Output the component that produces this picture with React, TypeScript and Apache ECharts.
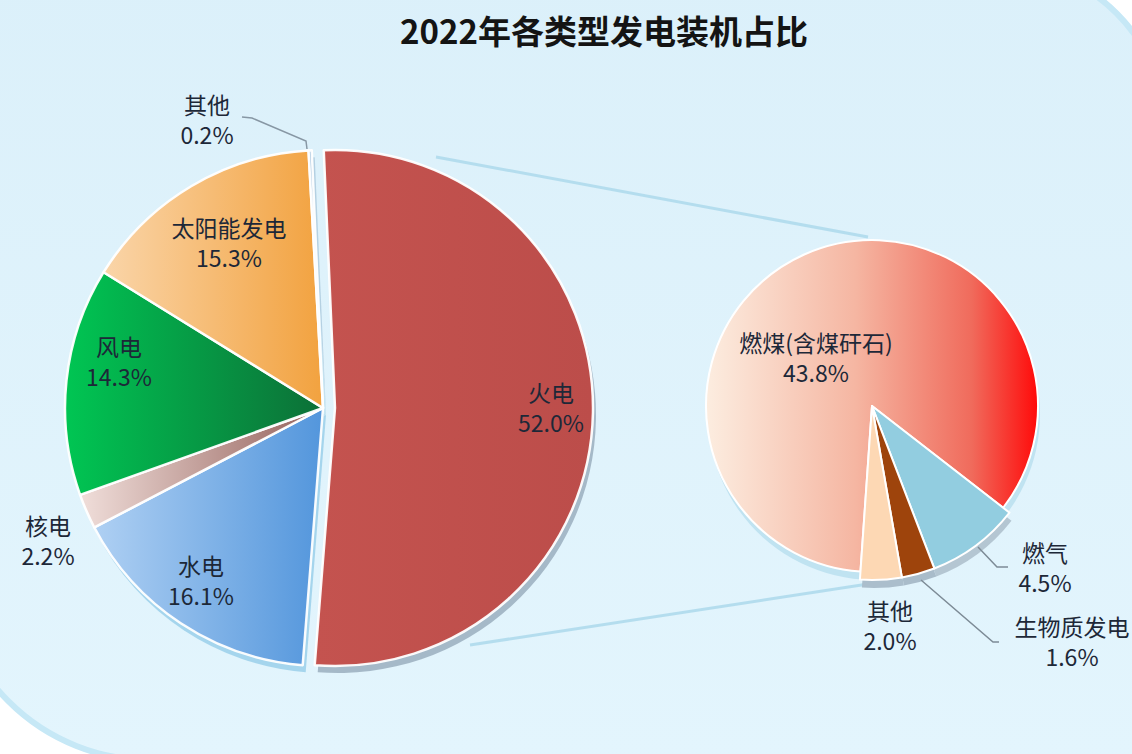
import React, { useEffect, useRef } from 'react';
import * as echarts from 'echarts';

// ---------- data ----------
const chartTitle = '2022年各类型发电装机占比';

const mainNames = ['火电', '水电', '核电', '风电', '太阳能发电', '其他'];
const mainValues = [52.0, 16.1, 2.2, 14.3, 15.3, 0.2];

// breakdown of 火电 (clockwise order starting at the 燃气 slice)
const subNames = ['燃气', '生物质发电', '其他', '燃煤(含煤矸石)'];
const subValues = [4.5, 1.6, 2.0, 43.8];

// ---------- style / layout (not data) ----------
const FONT = '"Noto Sans CJK SC", "Noto Sans", sans-serif';
const LABEL_COLOR = '#1d2838';
const TRANSPARENT = 'rgba(0,0,0,0)';

const grad = (stops: [number, string][]) =>
  new echarts.graphic.LinearGradient(
    0, 0, 1, 0,
    stops.map(([offset, color]) => ({ offset, color }))
  );

const mainColors = [
  grad([[0, '#C4534F'], [1, '#BC4D4A']]),
  grad([[0, '#AFD0F3'], [1, '#5396DC']]),
  grad([[0, '#F0DEDA'], [1, '#94605A']]),
  grad([[0, '#00C653'], [1, '#0C6F37']]),
  grad([[0, '#FAD5A9'], [1, '#F2A23F']]),
  '#A9C6DE',
];
const mainRimColors = [
  'rgba(150,170,186,0.8)',
  'rgba(150,205,232,0.8)',
  'rgba(170,200,220,0.8)',
  'rgba(170,215,235,0.8)',
  'rgba(190,225,240,0.8)',
  'rgba(170,200,220,0.8)',
];

const subColors = [
  '#92CDE0',
  '#9E440C',
  '#FDD8B4',
  grad([[0, '#FCEDE0'], [0.45, '#F5B6A2'], [0.8, '#F06B5C'], [1, '#FF0A0A']]),
];
const subRimColors = ['#B4C6D2', '#A9BCCA', '#ABBECC', 'rgba(190,226,240,0.95)'];

// label anchor points (label block centres)
const mainLabelPos = [
  [551, 407],
  [201, 580],
  [48, 540],
  [119, 361],
  [229, 242],
  [207, 119],
];
const subLabelPos = [
  [1045, 567],
  [1072, 641],
  [890, 625],
  [816, 357],
];

const LEFT_CENTER = [323, 408];
const EXPLODE = 12;
const LEFT_R = 258;
const LEFT_START = 92.5;
const RIGHT_CENTER = [872, 406];
const RIGHT_START = -37.8;

const labelStyle = {
  show: true,
  position: 'inside',
  fontSize: 23,
  lineHeight: 30,
  color: LABEL_COLOR,
  fontFamily: FONT,
  formatter: (p: any) => `${p.name}\n${Number(p.value).toFixed(1)}%`,
};
const hiddenLabel = { show: false, formatter: () => '' };

const layoutFrom = (pos: number[][]) => (p: any) => ({
  x: pos[p.dataIndex][0],
  y: pos[p.dataIndex][1],
  align: 'center',
  verticalAlign: 'middle',
});

const basePie = {
  type: 'pie',
  clockwise: true,
  avoidLabelOverlap: false,
  emphasis: { disabled: true },
  labelLine: { show: false },
  silent: true,
};

export default function App() {
  const ref = useRef<HTMLDivElement>(null);

  useEffect(() => {
    const chart = echarts.init(ref.current!, null, { renderer: 'svg' });

    // left pie: the 火电 slice is drawn from an offset centre (exploded)
    const leftPie = (exploded: boolean, rim: boolean) => ({
      ...basePie,
      center: [
        LEFT_CENTER[0] + (exploded ? EXPLODE : 0) + (rim ? 3 : 0),
        LEFT_CENTER[1] + (rim ? 7 : 0),
      ],
      radius: LEFT_R,
      startAngle: LEFT_START,
      label: rim ? hiddenLabel : labelStyle,
      labelLayout: rim ? undefined : layoutFrom(mainLabelPos),
      data: mainNames.map((name, i) => {
        const visible = exploded ? i === 0 : i !== 0;
        return {
          name,
          value: mainValues[i],
          label: visible && !rim ? { show: true } : hiddenLabel,
          itemStyle: visible
            ? rim
              ? { color: mainRimColors[i], borderWidth: 0 }
              : { color: mainColors[i], borderColor: 'rgba(255,255,255,0.95)', borderWidth: 2.5 }
            : { color: TRANSPARENT, borderWidth: 0 },
        };
      }),
    });

    // right pie: 燃煤 has a smaller radius than the three small slices
    const rightPie = (coal: boolean, rim: boolean) => ({
      ...basePie,
      center: [RIGHT_CENTER[0] + (rim ? 2 : 0), RIGHT_CENTER[1] + (rim ? 8 : 0)],
      radius: coal ? 166 : 174,
      startAngle: RIGHT_START,
      label: rim ? hiddenLabel : labelStyle,
      labelLayout: rim ? undefined : layoutFrom(subLabelPos),
      data: subNames.map((name, i) => {
        const isCoal = i === subNames.length - 1;
        const visible = coal ? isCoal : !isCoal;
        return {
          name,
          value: subValues[i],
          label: visible && !rim ? { show: true } : hiddenLabel,
          itemStyle: visible
            ? rim
              ? { color: subRimColors[i], borderWidth: 0 }
              : { color: subColors[i], borderColor: '#ffffff', borderWidth: 2 }
            : { color: TRANSPARENT, borderWidth: 0 },
        };
      }),
    });

    const option: any = {
      animation: false,
      backgroundColor: '#ffffff',
      title: {
        text: chartTitle,
        left: 599,
        top: 8,
        textAlign: 'center',
        textStyle: {
          fontSize: 33,
          fontWeight: 'bold',
          color: '#141414',
          fontFamily: FONT,
        },
      },
      graphic: [
        {
          type: 'rect',
          z: -10,
          silent: true,
          shape: { x: -50, y: -35, width: 1215, height: 795, r: [0, 165, 0, 200] },
          style: {
            fill: new echarts.graphic.LinearGradient(0, 0, 0, 1, [
              { offset: 0, color: '#DBF0FA' },
              { offset: 1, color: '#E3F5FD' },
            ]),
            stroke: '#C6E8F6',
            lineWidth: 6,
          },
        },
        // connector lines between the two pies
        {
          type: 'line',
          z: -5,
          silent: true,
          shape: { x1: 436, y1: 157, x2: 868, y2: 237 },
          style: { stroke: 'rgba(175,218,236,0.9)', lineWidth: 3 },
        },
        {
          type: 'line',
          z: -5,
          silent: true,
          shape: { x1: 470, y1: 645, x2: 868, y2: 584 },
          style: { stroke: 'rgba(175,218,236,0.9)', lineWidth: 3 },
        },
        // leader lines
        {
          type: 'polyline',
          silent: true,
          shape: { points: [[242, 117], [252, 118], [306, 141], [307, 149]] },
          style: { stroke: '#8797a4', lineWidth: 1.5, fill: null },
        },
        {
          type: 'polyline',
          silent: true,
          z: 10,
          shape: { points: [[978, 547], [997, 567], [1008, 567]] },
          style: { stroke: '#7d8b96', lineWidth: 1.5, fill: null },
        },
        {
          type: 'polyline',
          silent: true,
          z: 10,
          shape: { points: [[921, 580], [993, 642], [999, 642]] },
          style: { stroke: '#7d8b96', lineWidth: 1.5, fill: null },
        },
      ],
      series: [
        leftPie(false, true),
        leftPie(true, true),
        leftPie(false, false),
        leftPie(true, false),
        rightPie(true, true),
        rightPie(false, true),
        rightPie(true, false),
        rightPie(false, false),
      ],
    };

    chart.setOption(option);
    return () => chart.dispose();
  }, []);

  return (
    <div
      ref={ref}
      style={{ position: 'fixed', left: 0, top: 0, width: 1132, height: 754 }}
    />
  );
}
